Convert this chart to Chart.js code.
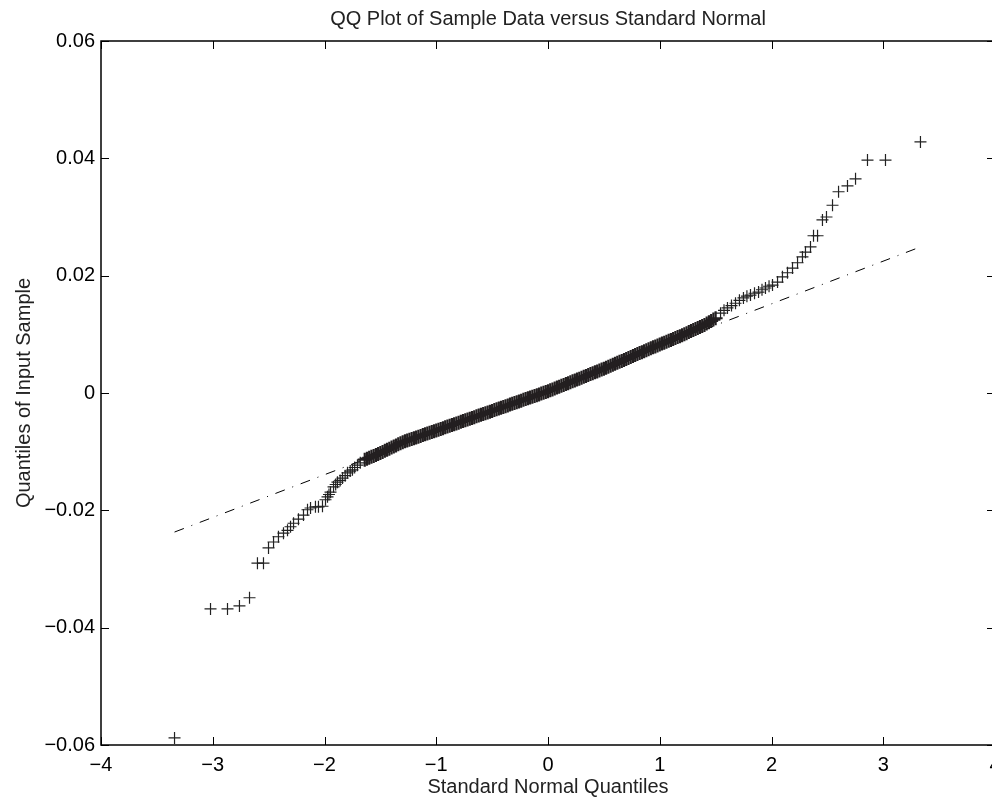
<!DOCTYPE html>
<html>
<head>
<meta charset="utf-8">
<title>QQ Plot</title>
<script src="https://cdn.jsdelivr.net/npm/chart.js@4.4.1/dist/chart.umd.min.js"></script>
<style>
    html, body { margin: 0; padding: 0; background: #fff; overflow: hidden; }
</style>
</head>
<body>
<canvas id="qqChart" width="1010" height="799"></canvas>
<script>
// Lower tail, read point by point
const lowTailX = [-3.342, -3.020, -2.868, -2.761, -2.671, -2.600, -2.546, -2.501, -2.456, -2.412,
    -2.367, -2.331, -2.304, -2.277, -2.233, -2.188, -2.152, -2.125, -2.081, -2.054,
    -2.018, -1.991, -1.973, -1.960, -1.946, -1.919, -1.900, -1.884, -1.860, -1.839,
    -1.815, -1.794, -1.770, -1.750, -1.730, -1.705, -1.680];
const lowTailY = [-0.0588, -0.0368, -0.0368, -0.0363, -0.0349, -0.0290, -0.0290, -0.0264, -0.0254, -0.0245,
    -0.0239, -0.0234, -0.0228, -0.0222, -0.0215, -0.0208, -0.0199, -0.0196, -0.0194, -0.0194,
    -0.0193, -0.0182, -0.0177, -0.0173, -0.0169, -0.0160, -0.0156, -0.0152, -0.0149, -0.0145,
    -0.0141, -0.0136, -0.0133, -0.0131, -0.0127, -0.0123, -0.0119];

// Dense middle band
const bandX = [-1.64, -1.62, -1.60, -1.58, -1.56, -1.54, -1.52, -1.50, -1.48, -1.46,
    -1.44, -1.42, -1.40, -1.38, -1.36, -1.34, -1.32, -1.30, -1.28, -1.26,
    -1.24, -1.22, -1.20, -1.18, -1.16, -1.14, -1.12, -1.10, -1.08, -1.06,
    -1.04, -1.02, -1.00, -0.98, -0.96, -0.94, -0.92, -0.90, -0.88, -0.86,
    -0.84, -0.82, -0.80, -0.78, -0.76, -0.74, -0.72, -0.70, -0.68, -0.66,
    -0.64, -0.62, -0.60, -0.58, -0.56, -0.54, -0.52, -0.50, -0.48, -0.46,
    -0.44, -0.42, -0.40, -0.38, -0.36, -0.34, -0.32, -0.30, -0.28, -0.26,
    -0.24, -0.22, -0.20, -0.18, -0.16, -0.14, -0.12, -0.10, -0.08, -0.06,
    -0.04, -0.02, 0.00, 0.02, 0.04, 0.06, 0.08, 0.10, 0.12, 0.14,
    0.16, 0.18, 0.20, 0.22, 0.24, 0.26, 0.28, 0.30, 0.32, 0.34,
    0.36, 0.38, 0.40, 0.42, 0.44, 0.46, 0.48, 0.50, 0.52, 0.54,
    0.56, 0.58, 0.60, 0.62, 0.64, 0.66, 0.68, 0.70, 0.72, 0.74,
    0.76, 0.78, 0.80, 0.82, 0.84, 0.86, 0.88, 0.90, 0.92, 0.94,
    0.96, 0.98, 1.00, 1.02, 1.04, 1.06, 1.08, 1.10, 1.12, 1.14,
    1.16, 1.18, 1.20, 1.22, 1.24, 1.26, 1.28, 1.30, 1.32, 1.34,
    1.36, 1.38, 1.40, 1.42, 1.44, 1.46, 1.48, 1.50];
const bandY = [-0.01136, -0.01120, -0.01104, -0.01088, -0.01072, -0.01056, -0.01039, -0.01024, -0.01005, -0.00986,
    -0.00968, -0.00949, -0.00931, -0.00912, -0.00893, -0.00874, -0.00855, -0.00838, -0.00824, -0.00811,
    -0.00798, -0.00785, -0.00771, -0.00758, -0.00745, -0.00732, -0.00718, -0.00705, -0.00692, -0.00679,
    -0.00665, -0.00652, -0.00639, -0.00626, -0.00612, -0.00599, -0.00585, -0.00572, -0.00559, -0.00545,
    -0.00532, -0.00519, -0.00505, -0.00492, -0.00478, -0.00465, -0.00452, -0.00438, -0.00425, -0.00412,
    -0.00398, -0.00385, -0.00371, -0.00358, -0.00345, -0.00331, -0.00318, -0.00305, -0.00291, -0.00278,
    -0.00264, -0.00251, -0.00238, -0.00224, -0.00211, -0.00197, -0.00184, -0.00171, -0.00157, -0.00144,
    -0.00131, -0.00117, -0.00104, -0.00090, -0.00077, -0.00064, -0.00050, -0.00037, -0.00024, -0.00010,
    0.00003, 0.00017, 0.00030, 0.00045, 0.00061, 0.00076, 0.00092, 0.00107, 0.00122, 0.00138,
    0.00153, 0.00168, 0.00184, 0.00199, 0.00215, 0.00230, 0.00245, 0.00261, 0.00276, 0.00291,
    0.00307, 0.00322, 0.00338, 0.00353, 0.00368, 0.00384, 0.00399, 0.00415, 0.00431, 0.00448,
    0.00464, 0.00481, 0.00497, 0.00514, 0.00531, 0.00547, 0.00564, 0.00580, 0.00597, 0.00613,
    0.00630, 0.00647, 0.00663, 0.00680, 0.00696, 0.00713, 0.00730, 0.00746, 0.00762, 0.00778,
    0.00794, 0.00810, 0.00826, 0.00842, 0.00857, 0.00873, 0.00889, 0.00905, 0.00921, 0.00937,
    0.00953, 0.00969, 0.00985, 0.01002, 0.01020, 0.01038, 0.01055, 0.01073, 0.01090, 0.01108,
    0.01125, 0.01143, 0.01161, 0.01183, 0.01206, 0.01228, 0.01251, 0.01274];

// Upper tail, read point by point
const highTailX = [1.544, 1.575, 1.606, 1.642, 1.678, 1.713, 1.749, 1.780, 1.812, 1.848,
    1.884, 1.915, 1.946, 1.978, 2.009, 2.054, 2.098, 2.143, 2.188, 2.233,
    2.277, 2.304, 2.349, 2.376, 2.412, 2.456, 2.492, 2.546, 2.600, 2.680,
    2.752, 2.859, 3.020, 3.333];
const highTailY = [0.0136, 0.0141, 0.0145, 0.0149, 0.0153, 0.0158, 0.0162, 0.0165, 0.0167, 0.0170,
    0.0172, 0.0176, 0.0179, 0.0182, 0.0184, 0.0189, 0.0198, 0.0205, 0.0213, 0.0222,
    0.0232, 0.0240, 0.0249, 0.0268, 0.0268, 0.0295, 0.0300, 0.0320, 0.0343, 0.0353,
    0.0365, 0.0397, 0.0397, 0.0428];

// Reference line ends
const refLineX = [-3.342, 3.333];
const refLineY = [-0.0237, 0.0249];

const xTickLabels = ['\u22124', '\u22123', '\u22122', '\u22121', '0', '1', '2', '3', '4'];
const yTickLabels = ['\u22120.06', '\u22120.04', '\u22120.02', '0', '0.02', '0.04', '0.06'];
const chartTitle = 'QQ Plot of Sample Data versus Standard Normal';

const fontFamily = "'Liberation Sans', Arial, Helvetica, sans-serif";

function toPoints(xs, ys) {
    return xs.map((x, i) => ({ x: x, y: ys[i] }));
}

const tailPoints = toPoints(lowTailX, lowTailY).concat(toPoints(highTailX, highTailY));
const bandPoints = toPoints(bandX, bandY);

// MATLAB style box with inward ticks on all four sides, title centred over the axes
const axesBox = {
    id: 'axesBox',
    afterDraw(chart) {
        const { ctx, chartArea: a, scales } = chart;
        const len = 8;
        ctx.save();
        ctx.strokeStyle = '#000';
        ctx.lineWidth = 1;
        ctx.beginPath();
        scales.x.ticks.forEach(t => {
            const px = Math.round(scales.x.getPixelForValue(t.value)) + 0.5;
            ctx.moveTo(px, a.bottom); ctx.lineTo(px, a.bottom - len);
            ctx.moveTo(px, a.top); ctx.lineTo(px, a.top + len);
        });
        scales.y.ticks.forEach(t => {
            const py = Math.round(scales.y.getPixelForValue(t.value)) + 0.5;
            ctx.moveTo(a.left, py); ctx.lineTo(a.left + len, py);
            ctx.moveTo(a.right, py); ctx.lineTo(a.right - len, py);
        });
        ctx.stroke();
        ctx.lineWidth = 1.5;
        ctx.strokeRect(a.left, a.top, a.right - a.left, a.bottom - a.top);

        ctx.fillStyle = '#222';
        ctx.font = '20px ' + fontFamily;
        ctx.textAlign = 'center';
        ctx.textBaseline = 'alphabetic';
        ctx.fillText(chartTitle, (a.left + a.right) / 2, 24.5);
        ctx.restore();
    }
};

const ctx = document.getElementById('qqChart').getContext('2d');
new Chart(ctx, {
    type: 'scatter',
    data: {
        datasets: [
            {
                label: 'Sample tails',
                data: tailPoints,
                pointStyle: 'cross',
                pointRadius: 6,
                borderColor: '#222',
                borderWidth: 1.2,
                order: 1
            },
            {
                label: 'Sample band',
                data: bandPoints,
                pointStyle: 'cross',
                pointRadius: 7,
                borderColor: '#231f20',
                borderWidth: 2.2,
                order: 1
            },
            {
                label: 'Reference',
                data: toPoints(refLineX, refLineY),
                type: 'line',
                showLine: true,
                pointRadius: 0,
                borderColor: '#000',
                borderWidth: 1,
                borderDash: [10, 8, 1, 8],
                order: 2
            }
        ]
    },
    options: {
        responsive: false,
        animation: false,
        layout: { padding: { left: 0, right: 15, top: 41, bottom: 0 } },
        plugins: {
            legend: { display: false },
            tooltip: { enabled: false },
            title: { display: false }
        },
        scales: {
            x: {
                type: 'linear',
                min: -4,
                max: 4,
                afterFit: s => { s.height = 54; },
                grid: { display: false, drawTicks: false },
                border: { display: false },
                ticks: {
                    stepSize: 1,
                    padding: 8,
                    color: '#000',
                    font: { family: fontFamily, size: 20 },
                    maxRotation: 0,
                    callback: (v, i) => xTickLabels[i]
                },
                title: {
                    display: true,
                    text: 'Standard Normal Quantiles',
                    color: '#222',
                    font: { family: fontFamily, size: 20 },
                    padding: { top: 0, bottom: 0 }
                }
            },
            y: {
                type: 'linear',
                min: -0.06,
                max: 0.06,
                afterFit: s => { s.width = 101; },
                grid: { display: false, drawTicks: false },
                border: { display: false },
                ticks: {
                    stepSize: 0.02,
                    padding: 6,
                    color: '#000',
                    font: { family: fontFamily, size: 20 },
                    callback: (v, i) => yTickLabels[i]
                },
                title: {
                    display: true,
                    text: 'Quantiles of Input Sample',
                    color: '#222',
                    font: { family: fontFamily, size: 20 },
                    padding: { top: 12.5, bottom: 0 }
                }
            }
        }
    },
    plugins: [axesBox]
});
</script>
</body>
</html>
